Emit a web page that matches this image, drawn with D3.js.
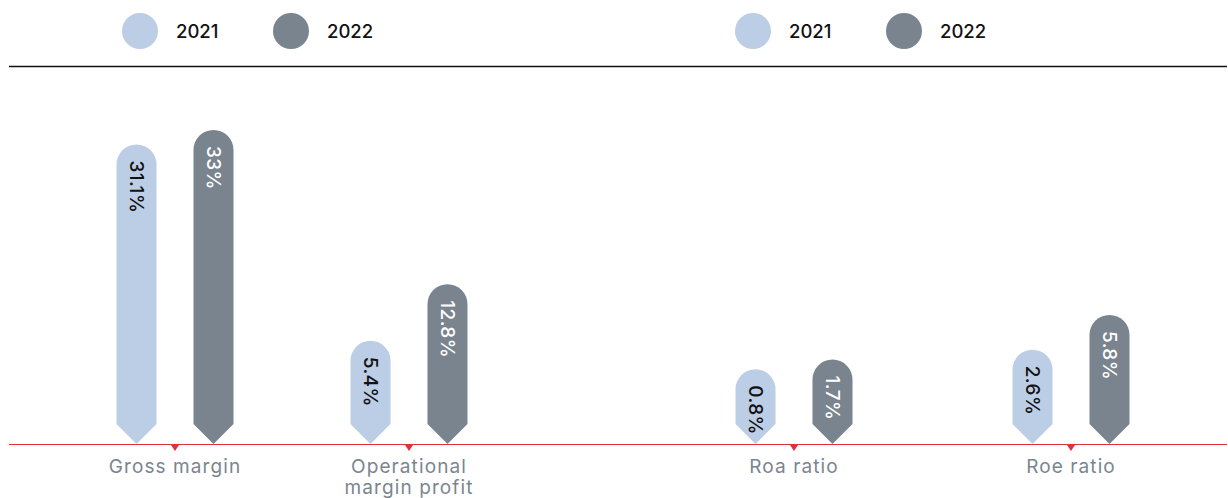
<!DOCTYPE html>
<html>
<head>
<meta charset="utf-8">
<script src="https://cdn.jsdelivr.net/npm/d3@7"></script>
<style>
  html, body { margin: 0; padding: 0; background: #ffffff; }
  svg { display: block; font-family: Inter, "Noto Sans", sans-serif; }
</style>
</head>
<body>
<svg id="chart" width="1228" height="498"></svg>
<script>
// Profitability ratios, two panels, 2021 vs 2022
const years = ["2021", "2022"];
const leftCategories = ["Gross margin", "Operational margin profit"];
const rightCategories = ["Roa ratio", "Roe ratio"];
const leftValues2021 = [31.1, 5.4];
const leftValues2022 = [33, 12.8];
const rightValues2021 = [0.8, 2.6];
const rightValues2022 = [1.7, 5.8];
const valueLabels = { "31.1": "31.1%", "33": "33%", "5.4": "5.4%", "12.8": "12.8%",
                      "0.8": "0.8%", "1.7": "1.7%", "2.6": "2.6%", "5.8": "5.8%" };

const colors = { "2021": "#bccde6", "2022": "#79848e" };
const textColors = { "2021": "#111111", "2022": "#ffffff" };

const svg = d3.select("#chart");
const baseY = 444;

// header rule and baseline
svg.append("line").attr("x1", 9).attr("x2", 1227).attr("y1", 66.5).attr("y2", 66.5)
  .attr("stroke", "#111").attr("stroke-width", 1.6);
svg.append("line").attr("x1", 9).attr("x2", 1227).attr("y1", baseY + 0.5).attr("y2", baseY + 0.5)
  .attr("stroke", "#e0303a").attr("stroke-width", 1.2);

function legend(x0) {
  const lg = svg.append("g").attr("transform", `translate(${x0},31)`);
  const item = d3.scalePoint().domain(years).range([0, 151]);
  years.forEach(y => {
    lg.append("circle").attr("cx", item(y)).attr("cy", 0).attr("r", 18).attr("fill", colors[y]);
    lg.append("text").attr("x", item(y) + 36).attr("y", 0).attr("dy", "0.36em")
      .attr("font-size", 18.5).attr("font-weight", 500).attr("fill", "#111").text(y);
  });
}
legend(140);
legend(753);

function panel(categories, v2021, v2022, xRange, heightScale, labelLines) {
  const x0 = d3.scalePoint().domain(categories).range(xRange);
  const x1 = d3.scaleBand().domain(years).range([-58.5, 58.5]).paddingInner(0.48).paddingOuter(0);
  const w = x1.bandwidth();
  const r = w / 2, chev = 20;

  const rows = [];
  categories.forEach((c, i) => {
    rows.push({ cat: c, year: "2021", value: v2021[i] });
    rows.push({ cat: c, year: "2022", value: v2022[i] });
  });

  const g = svg.append("g");
  const bars = g.selectAll("g.bar").data(rows).join("g").attr("class", "bar");
  bars.append("path")
    .attr("fill", d => colors[d.year])
    .attr("d", d => {
      const x = x0(d.cat) + x1(d.year);
      const top = baseY - heightScale(d.value);
      return `M${x},${baseY - chev} L${x},${top + r} A${r},${r} 0 0 1 ${x + w},${top + r}` +
             ` L${x + w},${baseY - chev} L${x + w / 2},${baseY} Z`;
    });
  bars.append("text")
    .attr("transform", d => {
      const cx = x0(d.cat) + x1(d.year) + w / 2;
      const top = baseY - heightScale(d.value);
      return `translate(${cx},${top + 16}) rotate(90)`;
    })
    .attr("dy", "0.36em")
    .attr("font-size", 19)
    .attr("font-weight", 500)
    .attr("letter-spacing", 0.4)
    .attr("fill", d => textColors[d.year])
    .text(d => valueLabels[String(d.value)]);

  // category markers
  g.selectAll("path.tick").data(categories).join("path").attr("class", "tick")
    .attr("fill", "#e0303a")
    .attr("d", c => `M${x0(c) - 4},${baseY + 1} L${x0(c) + 4},${baseY + 1} L${x0(c)},${baseY + 7} Z`);

  // category labels
  const lbl = g.selectAll("text.cat").data(categories).join("text").attr("class", "cat")
    .attr("x", c => x0(c)).attr("y", 473)
    .attr("text-anchor", "middle").attr("font-size", 19).attr("letter-spacing", 1.1)
    .attr("fill", "#7b858f");
  lbl.each(function (c) {
    const lines = labelLines[c] || [c];
    const t = d3.select(this);
    lines.forEach((ln, i) => {
      t.append("tspan").attr("x", x0(c)).attr("dy", i === 0 ? 0 : 21).text(ln);
    });
  });
}

// each panel has its own height scale; bars keep a minimum height for the label
const leftHeight = d3.scaleLinear().domain([0, 33]).range([62, 314]);
const rightHeight = d3.scaleLinear().domain([0, 5.8]).range([66, 129]);

panel(leftCategories, leftValues2021, leftValues2022, [175, 409], leftHeight,
  { "Operational margin profit": ["Operational", "margin profit"] });
panel(rightCategories, rightValues2021, rightValues2022, [794, 1071], rightHeight, {});
</script>
</body>
</html>
